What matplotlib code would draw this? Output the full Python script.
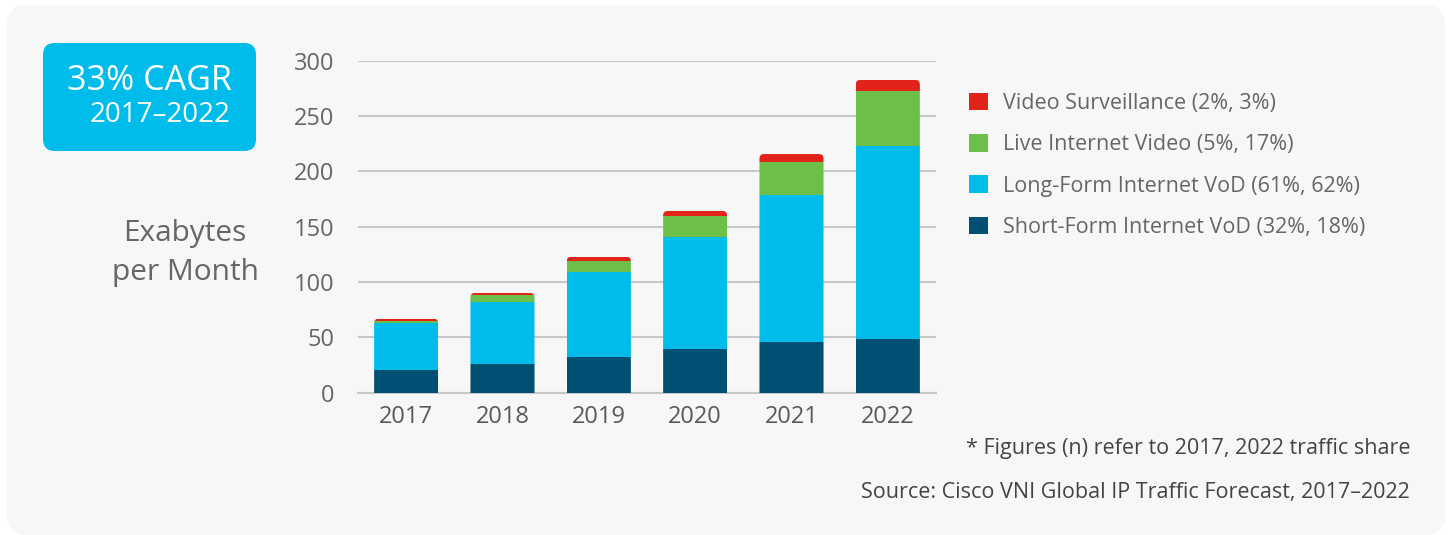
import matplotlib.pyplot as plt
from matplotlib.patches import FancyBboxPatch
import numpy as np

plt.rcParams['font.family'] = ['Open Sans', 'DejaVu Sans']

# data (Exabytes per month)
years = ['2017', '2018', '2019', '2020', '2021', '2022']
short_vod = [20.3, 25.8, 32.1, 39.3, 45.6, 48.3]
long_vod = [42.3, 56.3, 77.1, 101.0, 133.0, 174.6]
live_video = [2.3, 6.1, 10.0, 19.3, 30.1, 49.7]
surveillance = [1.8, 1.8, 3.6, 4.5, 6.9, 10.0]
labels = ['Short-Form Internet VoD (32%, 18%)', 'Long-Form Internet VoD (61%, 62%)',
          'Live Internet Video (5%, 17%)', 'Video Surveillance (2%, 3%)']
colors = ['#005073', '#00bceb', '#6cc04a', '#e2231a']
yticks = [0, 50, 100, 150, 200, 250, 300]

W, H = 1448, 535
fig = plt.figure(figsize=(W / 100, H / 100), dpi=100)
fig.patch.set_facecolor('white')

# light grey rounded panel
panel = FancyBboxPatch((7 / W, 0), 1438 / W, 530 / H, transform=fig.transFigure,
                       boxstyle='round,pad=0,rounding_size=0.014', mutation_aspect=W / H,
                       facecolor='#f7f7f7', edgecolor='none', zorder=-2)
fig.patches.append(panel)

ax = fig.add_axes([358 / W, 1 - 392.5 / H, 578 / W, (392.5 - 60.7) / H])
ax.set_facecolor('none')

x = np.arange(len(years))
series = [short_vod, long_vod, live_video, surveillance]
bottom = np.zeros(len(years))
containers = []
for vals, col, lab in zip(series, colors, labels):
    c = ax.bar(x, vals, bottom=bottom, width=0.665, color=col, label=lab, zorder=3)
    containers.append(c)
    bottom = bottom + np.array(vals)

ax.set_xlim(-0.5, 5.5)
ax.set_ylim(0, 300)

# rounded top corners on each stacked column
px_x = 578 / 6
px_y = (392.5 - 60.7) / 300
asp = px_x / px_y
rad = 4.5 / px_x
for i in range(len(years)):
    r = containers[0][i]
    clip = FancyBboxPatch((r.get_x(), -20), r.get_width(), bottom[i] + 20,
                          boxstyle='round,pad=0,rounding_size=%f' % rad,
                          mutation_aspect=asp, transform=ax.transData,
                          facecolor='none', edgecolor='none')
    for c in containers:
        c[i].set_clip_path(clip)

ax.set_yticks(yticks)
ax.set_xticks(x)
ax.set_xticklabels(years)
ax.grid(axis='y', color='#c8c8c8', linewidth=1.5, zorder=0)
for s in ['top', 'right', 'left']:
    ax.spines[s].set_visible(False)
ax.spines['bottom'].set_color('#c8c8c8')
ax.spines['bottom'].set_linewidth(1.5)
ax.tick_params(axis='y', length=0, pad=17, labelsize=17, labelcolor='#666666')
ax.tick_params(axis='x', length=0, pad=9, labelsize=17, labelcolor='#595959')

# y label
fig.text(185 / W, 1 - 240.7 / H, 'Exabytes', ha='center', va='baseline',
         fontsize=21.5, color='#666666')
fig.text(185 / W, 1 - 280 / H, 'per Month', ha='center', va='baseline',
         fontsize=21.5, color='#666666')

# CAGR box
box = FancyBboxPatch((43 / W, 1 - 151 / H), 213 / W, 108 / H, transform=fig.transFigure,
                     boxstyle='round,pad=0,rounding_size=0.008', mutation_aspect=W / H,
                     facecolor='#00bceb', edgecolor='none', zorder=1)
fig.patches.append(box)
fig.text(232 / W, 1 - 90 / H, '33% CAGR', ha='right', va='baseline',
         fontsize=24.5, color='white')
fig.text(230 / W, 1 - 122 / H, '2017\u20132022', ha='right', va='baseline',
         fontsize=20, color='white')

# legend
handles = [c.patches[0] for c in containers][::-1]
leg = fig.legend(handles, labels[::-1], loc='upper left',
                 bbox_to_anchor=(969 / W, 1 - 93 / H), frameon=False, fontsize=15.5,
                 handlelength=0.87, handleheight=0.87, handletextpad=0.7,
                 labelspacing=0.93, borderpad=0, borderaxespad=0)
for t in leg.get_texts():
    t.set_color('#666666')

# footnotes
fig.text(1410 / W, 1 - 454 / H, '* Figures (n) refer to 2017, 2022 traffic share',
         ha='right', va='baseline', fontsize=15.5, color='#444444')
fig.text(1410 / W, 1 - 498 / H, 'Source: Cisco VNI Global IP Traffic Forecast, 2017\u20132022',
         ha='right', va='baseline', fontsize=15.5, color='#444444')

fig.savefig('out.png', dpi=100)
